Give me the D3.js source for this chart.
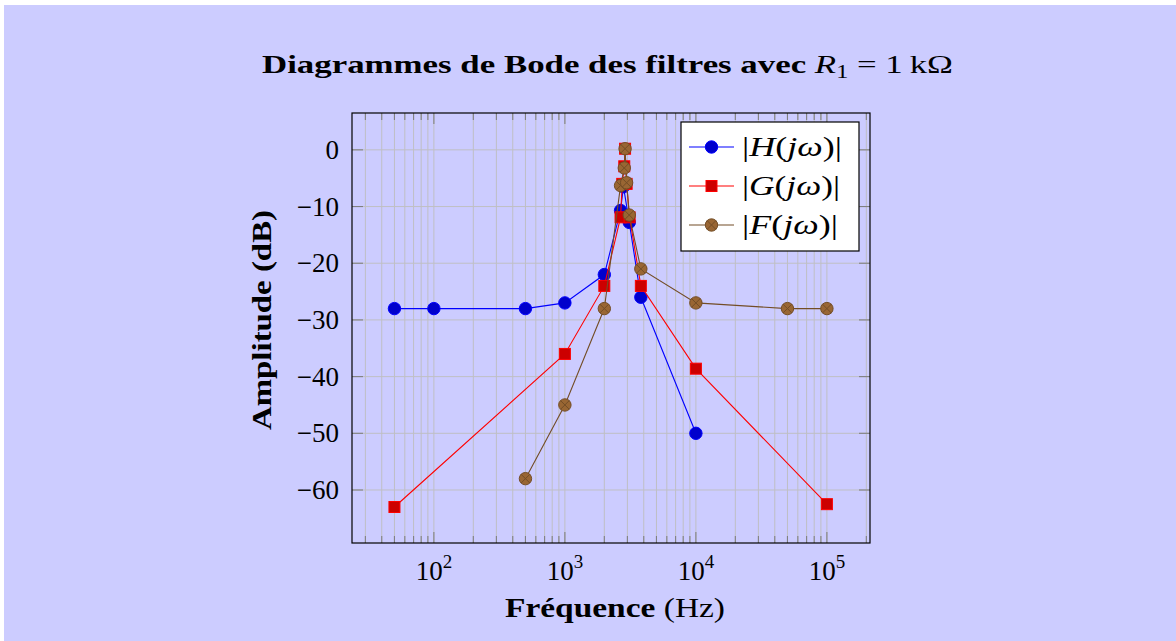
<!DOCTYPE html>
<html>
<head>
<meta charset="utf-8">
<script src="https://cdn.jsdelivr.net/npm/d3@7"></script>
<style>
  body { margin: 0; background: #ffffff; }
  text { font-family: "Liberation Serif", "DejaVu Serif", serif; fill: #000; }
</style>
</head>
<body>
<div id="graph"></div>
<script>
// data (frequency in Hz, amplitude in dB)
const freqH = [50, 100, 500, 1000, 2000, 2660, 2800, 3100, 3800, 10000];
const ampH  = [-28, -28, -28, -27, -22, -10.7, -6.5, -12.8, -26, -50];

const freqG = [50, 1000, 2000, 2660, 2740, 2840, 2880, 2960, 3120, 3800, 10000, 100000];
const ampG  = [-63, -36, -24, -11.9, -6, -2.9, 0.2, -6, -11.9, -24, -38.6, -62.5];

const freqF = [500, 1000, 2000, 2660, 2840, 2880, 2960, 3100, 3800, 10000, 50000, 100000];
const ampF  = [-58, -45, -28, -6.3, -3.2, 0.2, -5.8, -11.5, -21, -27, -28, -28];

const yTicks = [0, -10, -20, -30, -40, -50, -60];
const xTicks = [1e2, 1e3, 1e4, 1e5];
const xTickExp = ["2", "3", "4", "5"];

const width = 1176, height = 641;
const plot = {left: 352, right: 870, top: 113, bottom: 543};

const svg = d3.select("#graph")
    .append("svg")
    .attr("width", width)
    .attr("height", height);

// lavender page background
svg.append("rect")
    .attr("x", 4).attr("y", 5)
    .attr("width", width - 4).attr("height", height - 5)
    .attr("fill", "#ccccff");

// scales (limits enlarged like pgfplots)
let x = d3.scaleLog()
    .domain([Math.pow(10, 1.375), Math.pow(10, 5.329)])
    .range([plot.left, plot.right]);

let y = d3.scaleLinear()
    .domain([-69.35, 6.5])
    .range([plot.bottom, plot.top]);

// minor + major x positions
let minorX = [];
for (let e = 1; e <= 5; e++) {
    for (let m = 1; m <= 9; m++) {
        let v = m * Math.pow(10, e);
        if (v >= x.domain()[0] && v <= x.domain()[1]) minorX.push(v);
    }
}

let grid = svg.append("g");
grid.selectAll("line.vx").data(minorX).enter()
    .append("line")
    .attr("x1", d => x(d)).attr("x2", d => x(d))
    .attr("y1", plot.top).attr("y2", plot.bottom)
    .attr("stroke", "#bfbfc4").attr("stroke-width", 1);

grid.selectAll("line.hy").data(yTicks).enter()
    .append("line")
    .attr("x1", plot.left).attr("x2", plot.right)
    .attr("y1", d => y(d)).attr("y2", d => y(d))
    .attr("stroke", "#bfbfc4").attr("stroke-width", 1);

// ticks, inside on both sides
let ticks = svg.append("g").attr("stroke", "#808080").attr("stroke-width", 1.1);
minorX.forEach(v => {
    let len = xTicks.includes(v) ? 11 : 7;
    ticks.append("line").attr("x1", x(v)).attr("x2", x(v))
        .attr("y1", plot.bottom).attr("y2", plot.bottom - len);
    ticks.append("line").attr("x1", x(v)).attr("x2", x(v))
        .attr("y1", plot.top).attr("y2", plot.top + len);
});
yTicks.forEach(v => {
    ticks.append("line").attr("x1", plot.left).attr("x2", plot.left + 11)
        .attr("y1", y(v)).attr("y2", y(v));
    ticks.append("line").attr("x1", plot.right).attr("x2", plot.right - 11)
        .attr("y1", y(v)).attr("y2", y(v));
});

// tick labels
svg.selectAll("text.ylab").data(yTicks).enter()
    .append("text")
    .attr("x", 339)
    .attr("y", d => y(d) + 9)
    .attr("text-anchor", "end")
    .style("font-size", "27px")
    .text(d => d === 0 ? "0" : "\u2212" + Math.abs(d));

xTicks.forEach((v, i) => {
    let t = svg.append("text")
        .attr("x", x(v))
        .attr("y", 580)
        .attr("text-anchor", "middle")
        .style("font-size", "27px");
    t.append("tspan").text("10");
    t.append("tspan").attr("dy", -12).style("font-size", "19px").text(xTickExp[i]);
});

// series
const series = [
    {f: freqH, a: ampH, line: "#0000ff", fill: "#0000cc", mark: "circle"},
    {f: freqG, a: ampG, line: "#ff0000", fill: "#cc0000", mark: "square"},
    {f: freqF, a: ampF, line: "#734d26", fill: "#996633", mark: "otimes"}
];

function drawMark(g, cx, cy, s) {
    if (s.mark === "square") {
        g.append("rect")
            .attr("x", cx - 5.5).attr("y", cy - 5.5)
            .attr("width", 11).attr("height", 11)
            .attr("fill", s.fill).attr("stroke", s.line).attr("stroke-width", 1);
    } else {
        g.append("circle")
            .attr("cx", cx).attr("cy", cy).attr("r", 6.2)
            .attr("fill", s.fill).attr("stroke", s.line).attr("stroke-width", 1);
        if (s.mark === "otimes") {
            let k = 6.2 * Math.SQRT1_2;
            g.append("path")
                .attr("d", `M${cx - k},${cy - k}L${cx + k},${cy + k}M${cx - k},${cy + k}L${cx + k},${cy - k}`)
                .attr("stroke", s.line).attr("stroke-width", 1);
        }
    }
}

let line = d3.line().x(d => x(d[0])).y(d => y(d[1]));

series.forEach(s => {
    let pts = s.f.map((f, i) => [f, s.a[i]]);
    let g = svg.append("g");
    g.append("path")
        .attr("d", line(pts))
        .attr("fill", "none")
        .attr("stroke", s.line)
        .attr("stroke-width", 1.1);
    pts.forEach(p => drawMark(g, x(p[0]), y(p[1]), s));
});

// frame
svg.append("rect")
    .attr("x", plot.left).attr("y", plot.top)
    .attr("width", plot.right - plot.left).attr("height", plot.bottom - plot.top)
    .attr("fill", "none").attr("stroke", "#000").attr("stroke-width", 1.2);

// legend
let leg = svg.append("g");
leg.append("rect")
    .attr("x", 681).attr("y", 122).attr("width", 178).attr("height", 129)
    .attr("fill", "#fff").attr("stroke", "#000").attr("stroke-width", 1.2);
const legNames = ["H", "G", "F"];
const legWidths = [100, 98, 96];
series.forEach((s, i) => {
    let ry = 147 + i * 39;
    leg.append("line").attr("x1", 689).attr("x2", 734)
        .attr("y1", ry).attr("y2", ry)
        .attr("stroke", s.line).attr("stroke-width", 1.1);
    drawMark(leg, 711.5, ry, s);
    let t = leg.append("text").attr("x", 742).attr("y", ry + 9)
        .attr("textLength", legWidths[i]).attr("lengthAdjust", "spacingAndGlyphs")
        .style("font-size", "27px");
    t.append("tspan").text("|");
    t.append("tspan").style("font-style", "italic").text(legNames[i]);
    t.append("tspan").text("(");
    t.append("tspan").style("font-style", "italic").text("j\u03c9");
    t.append("tspan").text(")|");
});

// title
let title = svg.append("text")
    .attr("x", 262).attr("y", 73)
    .attr("textLength", 691).attr("lengthAdjust", "spacingAndGlyphs")
    .style("font-size", "26px");
title.append("tspan").style("font-weight", "bold").text("Diagrammes de Bode des filtres avec ");
title.append("tspan").style("font-style", "italic").text("R");
title.append("tspan").attr("dy", 5).style("font-size", "18px").text("1");
title.append("tspan").attr("dy", -5).text(" = 1\u2009k\u03a9");

// axis labels
let xl = svg.append("text")
    .attr("x", 505).attr("y", 617)
    .attr("textLength", 220).attr("lengthAdjust", "spacingAndGlyphs")
    .style("font-size", "27px");
xl.append("tspan").style("font-weight", "bold").text("Fréquence ");
xl.append("tspan").text("(Hz)");

svg.append("text")
    .attr("transform", `translate(271, 430) rotate(-90)`)
    .attr("textLength", 220).attr("lengthAdjust", "spacingAndGlyphs")
    .style("font-size", "27px")
    .style("font-weight", "bold")
    .text("Amplitude (dB)");
</script>
</body>
</html>
